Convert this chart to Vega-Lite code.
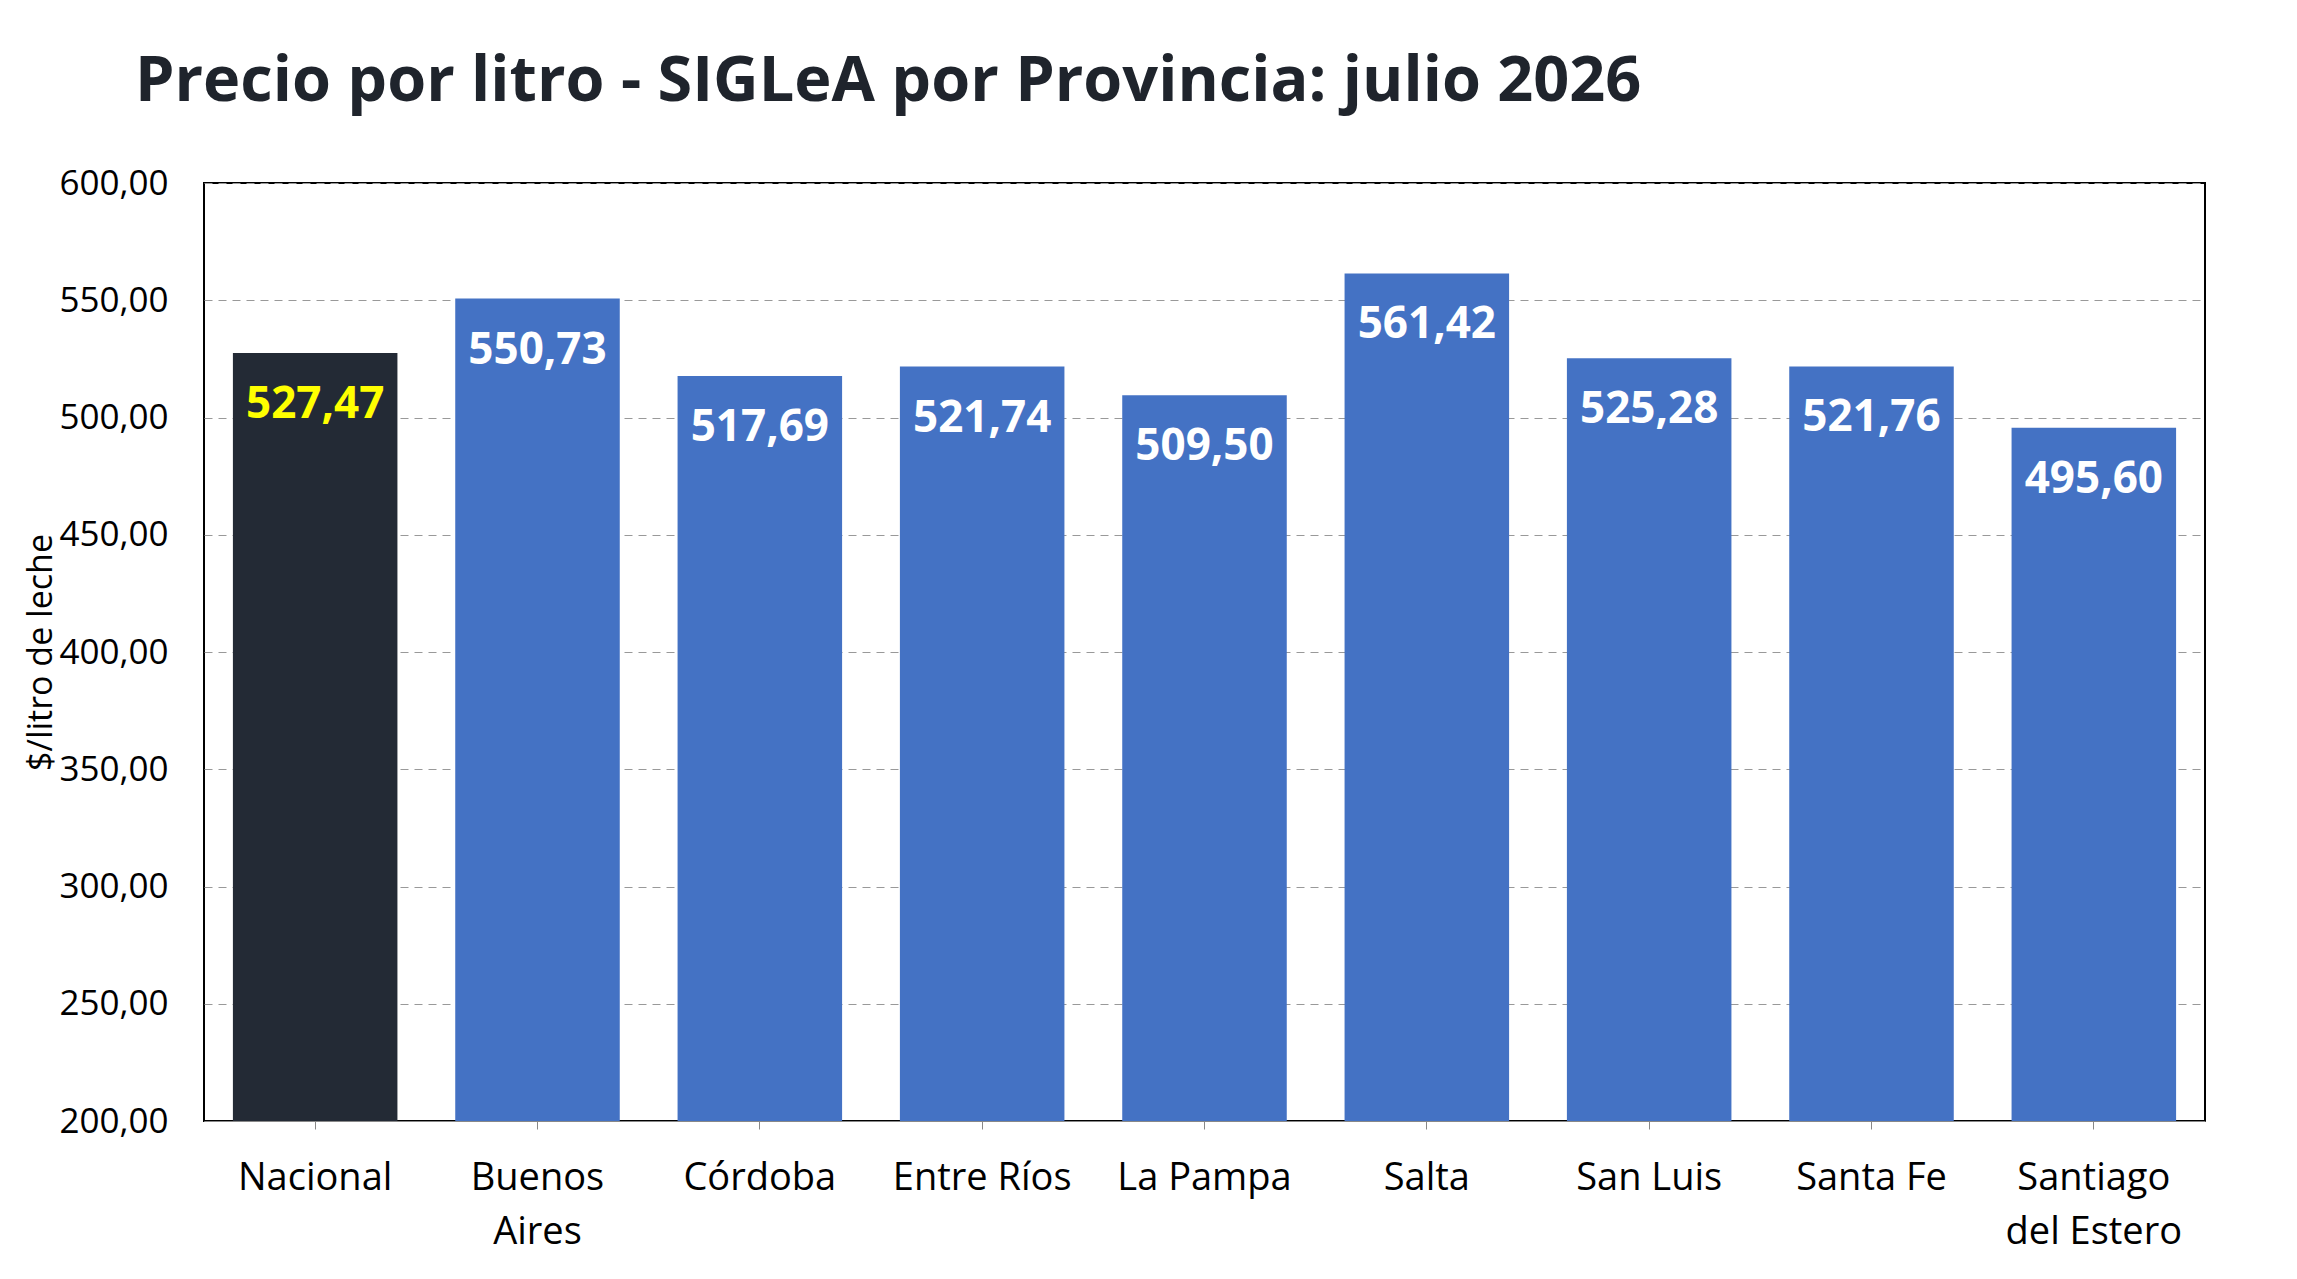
{
  "$schema": "https://vega.github.io/schema/vega-lite/v6.json",
  "autosize": "none",
  "width": 2001,
  "height": 938,
  "padding": {"left": 204, "top": 183, "right": 92, "bottom": 158},
  "background": "#ffffff",
  "config": {
    "locale": {"number": {"decimal": ",", "thousands": ".", "grouping": [3], "currency": ["$", ""]}},
    "font": "Open Sans",
    "view": {"stroke": "#000000", "strokeWidth": 2}
  },
  "title": {
    "text": "Precio por litro - SIGLeA por Provincia: julio 2026",
    "fontSize": 63, "fontWeight": "bold", "color": "#1f242c", "anchor": "start", "offset": 52, "dx": 110
  },
  "data": {"values": [
    {"prov": "Nacional", "v": 527.47, "nac": true},
    {"prov": "Buenos|Aires", "v": 550.73, "nac": false},
    {"prov": "Córdoba", "v": 517.69, "nac": false},
    {"prov": "Entre Ríos", "v": 521.74, "nac": false},
    {"prov": "La Pampa", "v": 509.50, "nac": false},
    {"prov": "Salta", "v": 561.42, "nac": false},
    {"prov": "San Luis", "v": 525.28, "nac": false},
    {"prov": "Santa Fe", "v": 521.76, "nac": false},
    {"prov": "Santiago|del Estero", "v": 495.60, "nac": false}
  ]},
  "encoding": {
    "x": {"field": "prov", "type": "nominal", "sort": null,
      "scale": {"paddingInner": 0.26, "paddingOuter": 0.13},
      "axis": {"title": null, "labelAngle": 0, "labelFontSize": 38, "labelLimit": 0, "labelColor": "#000", "labelExpr": "split(datum.label, '|')", "labelLineHeight": 54, "labelPadding": 30, "domainColor": "#888", "tickColor": "#888", "tickSize": 8}},
    "y": {"field": "v", "type": "quantitative",
      "scale": {"domain": [200, 600], "zero": false},
      "axis": {"title": "$/litro de leche", "titleFontSize": 34, "titleFontWeight": "normal", "titlePadding": 0, "titleColor": "#000", "labelFontSize": 35, "labelColor": "#000", "format": ",.2f", "tickCount": 8, "gridDash": [8, 6], "gridColor": "#999", "domain": false, "ticks": false, "labelPadding": 36}}
  },
  "layer": [
    {"mark": {"type": "bar"},
     "encoding": {"y2": {"datum": 200},
       "color": {"field": "nac", "type": "nominal", "scale": {"domain": [true, false], "range": ["#232a35", "#4472c4"]}, "legend": null}}},
    {"mark": {"type": "text", "baseline": "top", "dy": 30, "fontSize": 44, "fontWeight": "bold"},
     "encoding": {"text": {"field": "v", "type": "quantitative", "format": ",.2f"},
       "color": {"condition": {"test": "datum.nac", "value": "#ffff00"}, "value": "#ffffff"}}}
  ]
}
